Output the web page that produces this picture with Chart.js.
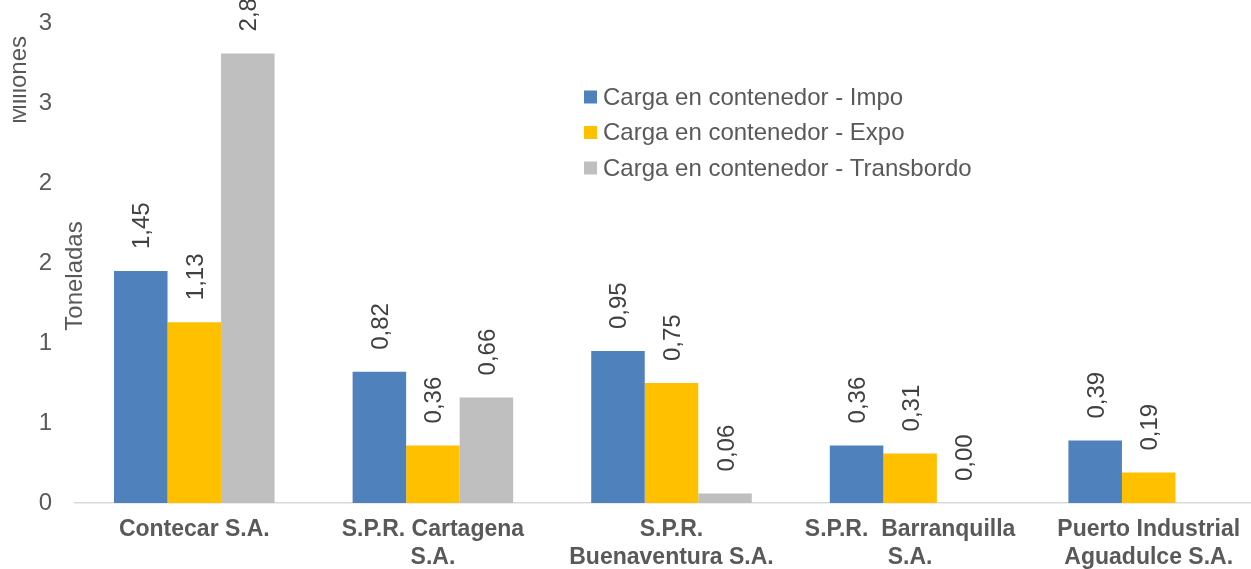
<!DOCTYPE html>
<html lang="es">
<head>
<meta charset="utf-8">
<title>Carga en contenedor por puerto</title>
<script src="https://cdn.jsdelivr.net/npm/chart.js@4.4.1/dist/chart.umd.min.js"></script>
<style>
html, body { margin: 0; padding: 0; background: #ffffff; overflow: hidden; }
#wrap { width: 1268px; height: 569px; }
</style>
</head>
<body>
<div id="wrap"><canvas id="cargaChart" width="1268" height="569"></canvas></div>
<script>
// Chart data (millones de toneladas)
const categories = [
  ['Contecar S.A.'],
  ['S.P.R. Cartagena', 'S.A.'],
  ['S.P.R.', 'Buenaventura S.A.'],
  ['S.P.R.  Barranquilla', 'S.A.'],
  ['Puerto Industrial', 'Aguadulce S.A.']
];
const seriesNames = [
  'Carga en contenedor - Impo',
  'Carga en contenedor - Expo',
  'Carga en contenedor - Transbordo'
];
const impo = [1.45, 0.82, 0.95, 0.36, 0.39];
const expo = [1.13, 0.36, 0.75, 0.31, 0.19];
const transbordo = [2.81, 0.66, 0.06, 0.00, null];
const yTickLabels = ['0', '1', '1', '2', '2', '3', '3'];
const yAxisTitle = 'Toneladas';
const unitsLabel = 'Millones';

const FONT = '"Liberation Sans", Arial, sans-serif';

// Rotated value labels, legend and axis texts drawn on top of the bars
const extrasPlugin = {
  id: 'extras',
  afterDatasetsDraw(chart) {
    const ctx = chart.ctx;
    chart.data.datasets.forEach((ds, i) => {
      const meta = chart.getDatasetMeta(i);
      meta.data.forEach((bar, j) => {
        const v = ds.data[j];
        if (v === null || v === undefined) return;
        ctx.save();
        ctx.translate(bar.x + 8.5, bar.y - 22);
        ctx.rotate(-Math.PI / 2);
        ctx.font = '24px ' + FONT;
        ctx.fillStyle = '#404040';
        ctx.textAlign = 'left';
        ctx.textBaseline = 'alphabetic';
        ctx.fillText(v.toFixed(2).replace('.', ','), 0, 0);
        ctx.restore();
      });
    });
  },
  afterDraw(chart) {
    const ctx = chart.ctx;

    // legend
    ctx.save();
    ctx.font = '24px ' + FONT;
    ctx.textBaseline = 'middle';
    ctx.textAlign = 'left';
    chart.data.datasets.forEach((ds, i) => {
      const y = 97 + i * 35.5;
      ctx.fillStyle = ds.backgroundColor;
      ctx.fillRect(584, y - 6.5, 13, 13);
      ctx.fillStyle = '#595959';
      ctx.fillText(ds.label, 603, y + 1);
    });
    ctx.restore();

    // axis title
    ctx.save();
    ctx.translate(82, 276);
    ctx.rotate(-Math.PI / 2);
    ctx.font = '24px ' + FONT;
    ctx.fillStyle = '#595959';
    ctx.textAlign = 'center';
    ctx.textBaseline = 'alphabetic';
    ctx.fillText(yAxisTitle, 0, 0);
    ctx.restore();

    // display units label, cut at the left like the original
    ctx.save();
    ctx.beginPath();
    ctx.rect(13, 0, 60, 200);
    ctx.clip();
    ctx.translate(26, 80);
    ctx.rotate(-Math.PI / 2);
    ctx.font = '24px ' + FONT;
    ctx.fillStyle = '#595959';
    ctx.textAlign = 'center';
    ctx.textBaseline = 'alphabetic';
    ctx.fillText(unitsLabel, 0, 0);
    ctx.restore();
  }
};

const ctx = document.getElementById('cargaChart').getContext('2d');
new Chart(ctx, {
  type: 'bar',
  data: {
    labels: categories,
    datasets: [
      { label: seriesNames[0], data: impo, backgroundColor: '#4f81bd' },
      { label: seriesNames[1], data: expo, backgroundColor: '#ffc000' },
      { label: seriesNames[2], data: transbordo, backgroundColor: '#bfbfbf' }
    ]
  },
  options: {
    responsive: false,
    animation: false,
    devicePixelRatio: 1,
    layout: { padding: { top: 23, left: 0, right: 0, bottom: 0 } },
    datasets: {
      bar: { barPercentage: 1, categoryPercentage: 0.673, borderWidth: 0 }
    },
    scales: {
      x: {
        grid: { display: false, drawTicks: false },
        border: { display: true, color: '#d9d9d9', width: 1.5 },
        ticks: {
          color: '#595959',
          font: { family: FONT, size: 23, weight: 'bold' },
          padding: 13,
          maxRotation: 0,
          autoSkip: false
        },
        afterFit(scale) { scale.height = 66; }
      },
      y: {
        min: 0,
        max: 3,
        grid: { display: false, drawTicks: false },
        border: { display: false },
        ticks: {
          stepSize: 0.5,
          color: '#595959',
          font: { family: FONT, size: 24 },
          padding: 23,
          callback: (value, index) => yTickLabels[index]
        },
        afterFit(scale) {
          // fixed width; let the layout padding decide the top edge
          scale.width = 75;
          scale.paddingTop = 0;
          scale.paddingBottom = 0;
        }
      }
    },
    plugins: {
      legend: { display: false },
      tooltip: { enabled: false }
    }
  },
  plugins: [extrasPlugin]
});
</script>
</body>
</html>
